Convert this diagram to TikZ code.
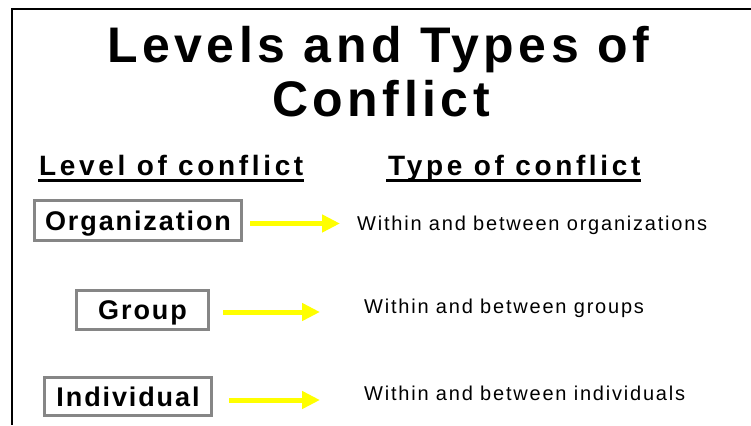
\documentclass[tikz,border=0pt]{standalone}
\usepackage{fontspec}
\setmainfont{Liberation Sans}
\newfontfamily\titlefont[LetterSpace=9]{Liberation Sans}
\newfontfamily\headfont[LetterSpace=13]{Liberation Sans}
\newfontfamily\boxfont[LetterSpace=7]{Liberation Sans}
\newfontfamily\typefont[LetterSpace=8.9]{Liberation Sans}
\usetikzlibrary{arrows.meta}
\definecolor{boxgray}{HTML}{868686}
\definecolor{arrowyellow}{HTML}{FFFF00}
\begin{document}
\begin{tikzpicture}[x=1pt,y=-1pt,
  titletext/.style={inner sep=0,anchor=base west,font=\titlefont\bfseries\fontsize{50}{60}\selectfont},
  headtext/.style={inner sep=0,anchor=base west,font=\headfont\bfseries\fontsize{28}{32}\selectfont},
  uline/.style={line width=3pt,black},
  levelbox/.style={draw=boxgray,line width=3pt,fill=white,inner sep=0,align=center,text height=19.3pt,text depth=0pt,font=\boxfont\bfseries\fontsize{27}{30}\selectfont},
  typetext/.style={inner sep=0,anchor=base west,font=\typefont\fontsize{20}{24}\selectfont},
  yarrow/.style={draw=arrowyellow,line width=5pt,-{Triangle[length=18pt,width=17pt]}},
  frame/.style={line width=2.5pt,black}
]
\useasboundingbox (0,0) rectangle (751,425);
\fill[white] (0,0) rectangle (751,425);
% frame
\coordinate (ftr) at (751,9);
\coordinate (ftl) at (12,9);
\coordinate (fbl) at (12,425);
\draw[frame] (ftr) -- (ftl) -- (fbl);
% title
\node[titletext] (t1) at (107,63) {Levels and Types of};
\node[titletext] (t2) at (272,116) {Conflict};
% headings
\node[headtext] (hl) at (39,175) {Level of conflict};
\node[headtext] (ht) at (388,175) {Type of conflict};
\draw[uline] ([yshift=-5.5pt,xshift=-1pt]hl.base west) -- ([yshift=-5.5pt]hl.base east);
\draw[uline] ([yshift=-5.5pt,xshift=-2pt]ht.base west) -- ([yshift=-5.5pt]ht.base east);
% level boxes
\node[levelbox,minimum width=207pt,minimum height=40pt] (org) at (138,220.5) {Organization};
\node[levelbox,minimum width=132pt,minimum height=39pt] (grp) at (142.5,310) {Group};
\node[levelbox,minimum width=167pt,minimum height=38pt] (ind) at (128,396.5) {Individual};
% types
\node[typetext] (torg) at (357,230) {Within and between organizations};
\node[typetext] (tgrp) at (364,313) {Within and between groups};
\node[typetext] (tind) at (364,400) {Within and between individuals};
% arrows
\draw[yarrow] ([xshift=7pt,yshift=-3pt]org.east) -- ([xshift=-17pt,yshift=-3pt]org.east -| torg.west);
\draw[yarrow] ([xshift=13pt,yshift=-2pt]grp.east) -- ([xshift=-44pt,yshift=-2pt]grp.east -| tgrp.west);
\draw[yarrow] ([xshift=16pt,yshift=-3.5pt]ind.east) -- ([xshift=-44pt,yshift=-3.5pt]ind.east -| tind.west);
\end{tikzpicture}
\end{document}
